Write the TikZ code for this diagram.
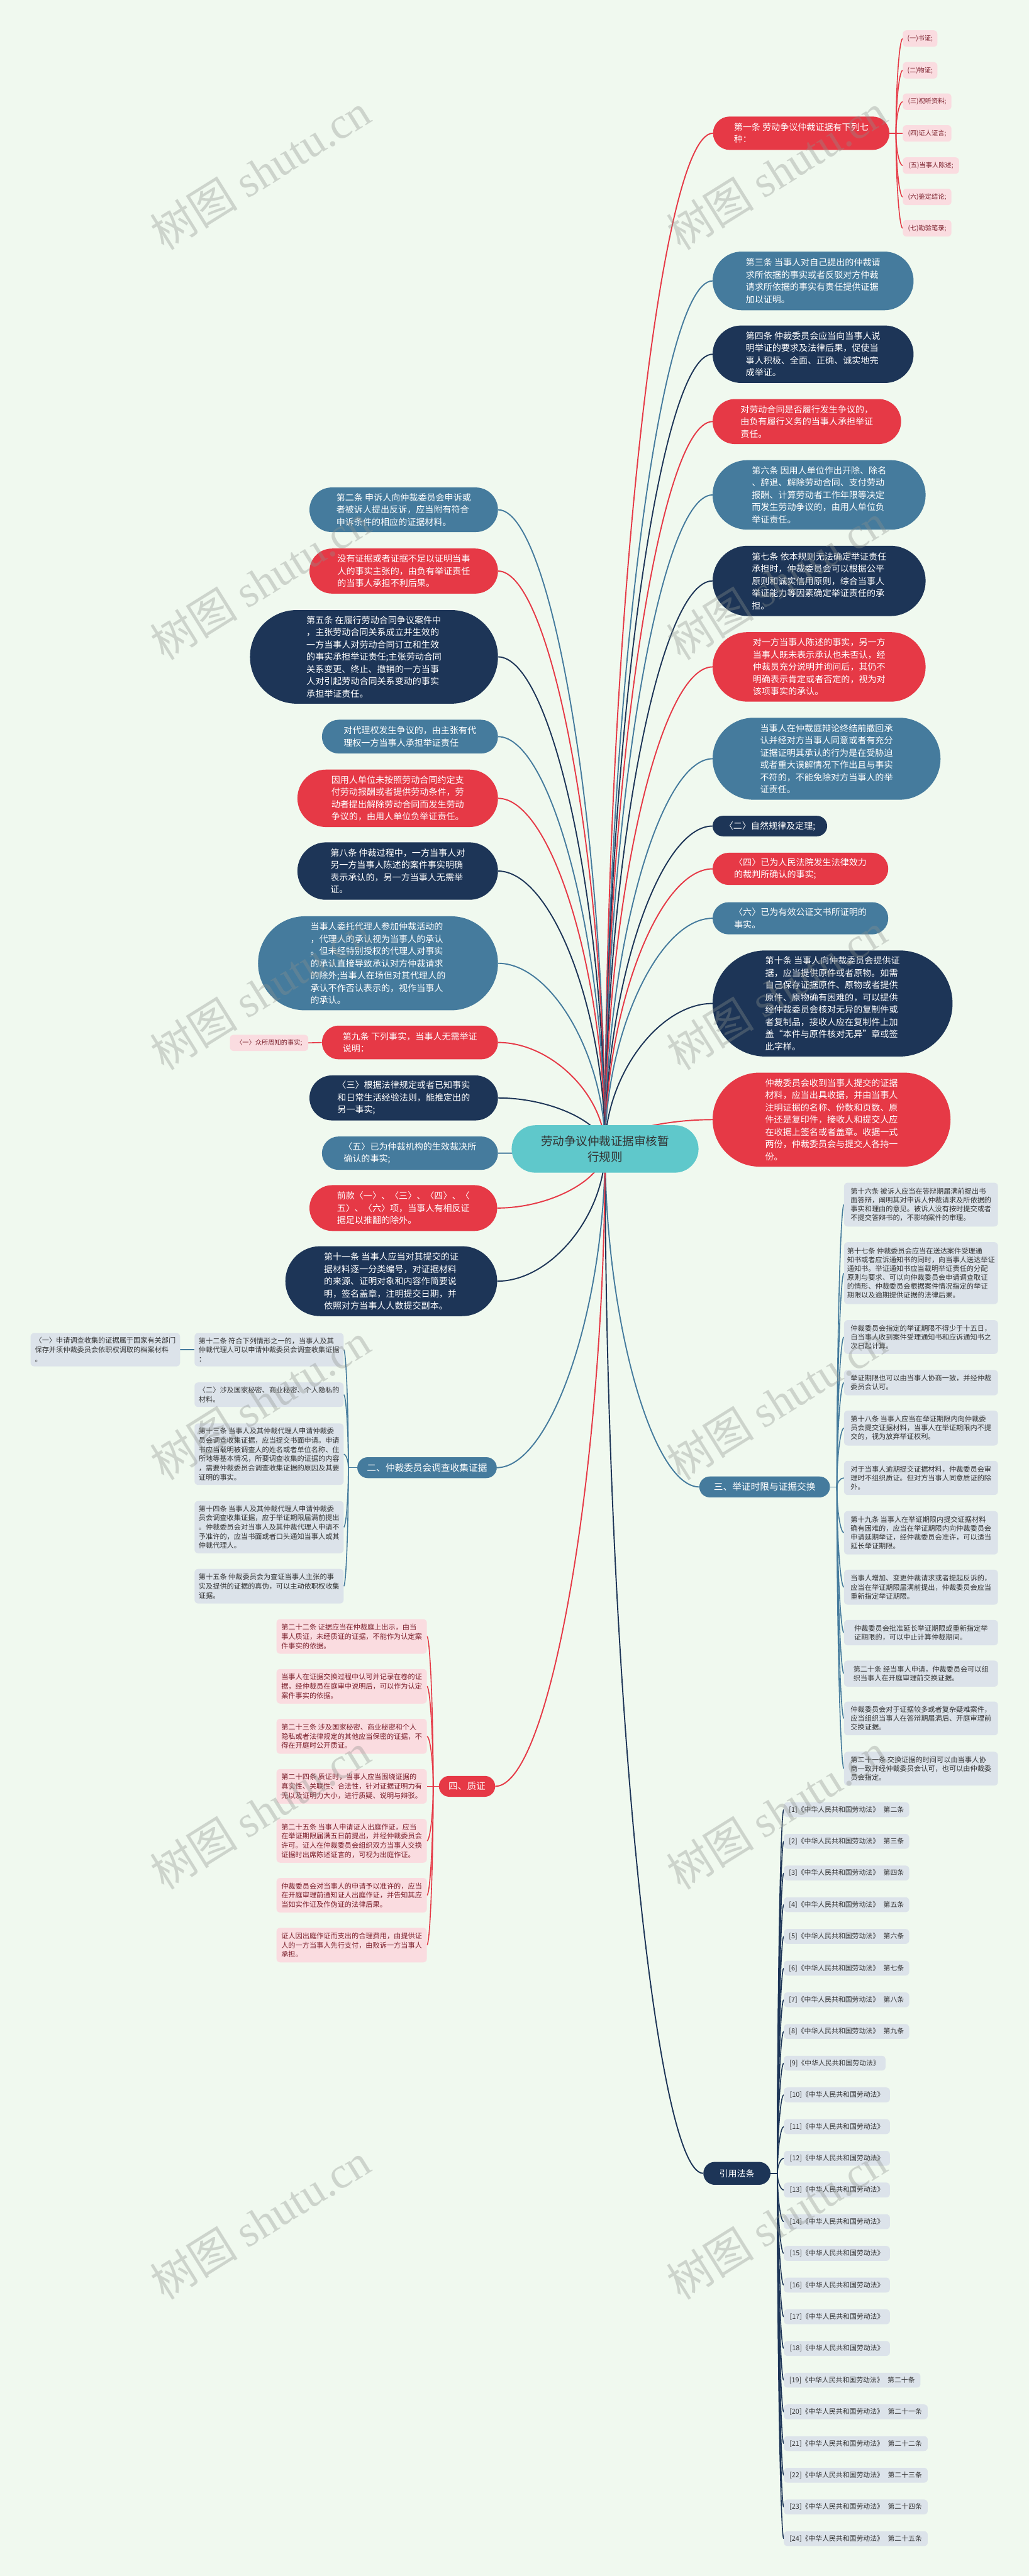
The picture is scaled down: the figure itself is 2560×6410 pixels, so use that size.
\documentclass[tikz,border=0pt]{standalone}
\usepackage{fontspec}
\setmainfont{Noto Sans CJK SC}
\newfontfamily\wmfont{Liberation Serif}
\usetikzlibrary{calc}
\definecolor{cbg}{HTML}{F0F9EF}
\definecolor{cred}{HTML}{E63946}
\definecolor{cnavy}{HTML}{1D3557}
\definecolor{csteel}{HTML}{457B9D}
\definecolor{cteal}{HTML}{5FC8CB}
\definecolor{cpink}{HTML}{FADCE0}
\definecolor{cgrey}{HTML}{DCE3EA}
\definecolor{cmaroon}{HTML}{7A1E2A}
\definecolor{cdark}{HTML}{333333}
\definecolor{cwm}{HTML}{8C918C}
\pgfdeclarelayer{bglayer}
\pgfdeclarelayer{edges}
\pgfdeclarelayer{wm}
\pgfsetlayers{bglayer,edges,main,wm}
\tikzset{
  mcurve/.style={to path={.. controls ($(\tikztostart)!0.5!(\tikztostart|-\tikztotarget)$) and ($(\tikztotarget)!0.5!(\tikztostart|-\tikztotarget)$) .. (\tikztotarget)}},
  mn/.style={inner sep=0pt, align=left, text=white, font=\fontsize{22pt}{30.5pt}\selectfont},
  rn/.style={mn, fill=cred},
  nn/.style={mn, fill=cnavy},
  sn/.style={mn, fill=csteel},
  pill/.style n args={3}{minimum width=#1pt, minimum height=#2pt, rounded corners=#3pt},
  sz/.style 2 args={minimum width=#1pt, minimum height=#2pt},
  leaf/.style={inner sep=0pt, align=left, rounded corners=9pt, font=\fontsize{17.5pt}{23pt}\selectfont},
  pk/.style={leaf, fill=cpink, text=cmaroon},
  gy/.style={leaf, fill=cgrey, text=cdark},
  gyt/.style={gy, font=\fontsize{17.5pt}{22pt}\selectfont},
  smallpk/.style={pk, font=\fontsize{16pt}{20pt}\selectfont},
  refn/.style={gy, anchor=west, minimum height=37pt, font=\fontsize{17pt}{20pt}\selectfont},
  brn/.style={inner sep=0pt, text=white, font=\fontsize{23pt}{28pt}\selectfont},
  cn/.style={line width=3pt},
  fn/.style={line width=2.5pt},
  wmk/.style={rotate=32, text=cwm, text opacity=0.35, font=\fontsize{110pt}{110pt}\selectfont, inner sep=0pt, anchor=base east}
}
\begin{document}
\begin{tikzpicture}[x=1pt,y=-1pt]
\begin{pgfonlayer}{bglayer}
\fill[cbg] (0,0) rectangle (2560,6410);
\end{pgfonlayer}
\useasboundingbox (0,0) rectangle (2560,6410);

% central
\node[inner sep=0pt, align=center, fill=cteal, text=cdark, font=\fontsize{29pt}{38pt}\selectfont, pill={465}{118}{59}] (cen) at (1505.5,2859) {劳动争议仲裁证据审核暂\\行规则};

% right column
\node[rn, pill={439}{83}{41.5}] (r1) at (1993.5,331.5) {第一条 劳动争议仲裁证据有下列七\\种：};
\node[smallpk, sz={86}{41}, anchor=west] (p1) at (2246,96) {(一)书证;};
\node[smallpk, sz={86}{41}, anchor=west] (p2) at (2246,175) {(二)物证;};
\node[smallpk, sz={121}{41}, anchor=west] (p3) at (2246,253) {(三)视听资料;};
\node[smallpk, sz={121}{41}, anchor=west] (p4) at (2246,332) {(四)证人证言;};
\node[smallpk, sz={140}{41}, anchor=west] (p5) at (2246,412) {(五)当事人陈述;};
\node[smallpk, sz={121}{41}, anchor=west] (p6) at (2246,490) {(六)鉴定结论;};
\node[smallpk, sz={121}{41}, anchor=west] (p7) at (2246,568) {(七)勘验笔录;};

\node[sn, pill={500}{146}{73}] (r3) at (2023,699) {第三条 当事人对自己提出的仲裁请\\求所依据的事实或者反驳对方仲裁\\请求所依据的事实有责任提供证据\\加以证明。};
\node[nn, pill={500}{143}{71.5}] (r4) at (2023,881.5) {第四条 仲裁委员会应当向当事人说\\明举证的要求及法律后果，促使当\\事人积极、全面、正确、诚实地完\\成举证。};
\node[rn, pill={469}{112}{56}] (r5) at (2007.5,1049) {对劳动合同是否履行发生争议的，\\由负有履行义务的当事人承担举证\\责任。};
\node[sn, pill={530}{173}{86.5}] (r6) at (2038,1231.5) {第六条 因用人单位作出开除、除名\\、辞退、解除劳动合同、支付劳动\\报酬、计算劳动者工作年限等决定\\而发生劳动争议的，由用人单位负\\举证责任。};
\node[nn, pill={530}{175}{87.5}] (r7) at (2038,1445.5) {第七条 依本规则无法确定举证责任\\承担时，仲裁委员会可以根据公平\\原则和诚实信用原则，综合当事人\\举证能力等因素确定举证责任的承\\担。};
\node[rn, pill={530}{173}{86.5}] (r8) at (2038,1659.5) {对一方当事人陈述的事实，另一方\\当事人既未表示承认也未否认，经\\仲裁员充分说明并询问后，其仍不\\明确表示肯定或者否定的，视为对\\该项事实的承认。};
\node[sn, pill={567}{204}{102}] (r9) at (2056.5,1888) {当事人在仲裁庭辩论终结前撤回承\\认并经对方当事人同意或者有充分\\证据证明其承认的行为是在受胁迫\\或者重大误解情况下作出且与事实\\不符的，不能免除对方当事人的举\\证责任。};
\node[nn, pill={285}{51}{25.5}] (r10) at (1915.5,2055.5) {〈二〉自然规律及定理;};
\node[rn, pill={437}{80}{40}] (r11) at (1991.5,2162) {〈四〉已为人民法院发生法律效力\\的裁判所确认的事实;};
\node[sn, pill={437}{80}{40}] (r12) at (1991.5,2285) {〈六〉已为有效公证文书所证明的\\事实。};
\node[nn, pill={597}{264}{132}] (r13) at (2071.5,2497) {第十条 当事人向仲裁委员会提供证\\据，应当提供原件或者原物。如需\\自己保存证据原件、原物或者提供\\原件、原物确有困难的，可以提供\\经仲裁委员会核对无异的复制件或\\者复制品，接收人应在复制件上加\\盖“本件与原件核对无异”章或签\\此字样。};
\node[rn, pill={592}{234}{117}] (r14) at (2069,2786) {仲裁委员会收到当事人提交的证据\\材料，应当出具收据，并由当事人\\注明证据的名称、份数和页数、原\\件还是复印件，接收人和提交人应\\在收据上签名或者盖章。收据一式\\两份，仲裁委员会与提交人各持一\\份。};

% left column
\node[sn, pill={469}{111}{55.5}] (l1) at (1004.5,1268.5) {第二条 申诉人向仲裁委员会申诉或\\者被诉人提出反诉，应当附有符合\\申诉条件的相应的证据材料。};
\node[rn, pill={469}{112}{56}] (l2) at (1004.5,1421) {没有证据或者证据不足以证明当事\\人的事实主张的，由负有举证责任\\的当事人承担不利后果。};
\node[nn, pill={617}{233}{116.5}] (l3) at (930.5,1634.5) {第五条 在履行劳动合同争议案件中\\，主张劳动合同关系成立并生效的\\一方当事人对劳动合同订立和生效\\的事实承担举证责任;主张劳动合同\\关系变更、终止、撤销的一方当事\\人对引起劳动合同关系变动的事实\\承担举证责任。};
\node[sn, pill={438}{84}{42}] (l4) at (1020,1833) {对代理权发生争议的，由主张有代\\理权一方当事人承担举证责任};
\node[rn, pill={499}{143}{71.5}] (l5) at (989.5,1986.5) {因用人单位未按照劳动合同约定支\\付劳动报酬或者提供劳动条件，劳\\动者提出解除劳动合同而发生劳动\\争议的，由用人单位负举证责任。};
\node[nn, pill={499}{143}{71.5}] (l6) at (989.5,2167.5) {第八条 仲裁过程中，一方当事人对\\另一方当事人陈述的案件事实明确\\表示承认的，另一方当事人无需举\\证。};
\node[sn, pill={597}{234}{117}] (l7) at (940.5,2397) {当事人委托代理人参加仲裁活动的\\，代理人的承认视为当事人的承认\\。但未经特别授权的代理人对事实\\的承认直接导致承认对方仲裁请求\\的除外;当事人在场但对其代理人的\\承认不作否认表示的，视作当事人\\的承认。};
\node[rn, pill={438}{84}{42}] (l8) at (1020,2594) {第九条 下列事实，当事人无需举证\\说明：};
\node[smallpk, sz={195}{40}] (p8) at (669.5,2595) {〈一〉众所周知的事实;};
\node[nn, pill={469}{112}{56}] (l9) at (1004.5,2732) {〈三〉根据法律规定或者已知事实\\和日常生活经验法则，能推定出的\\另一事实;};
\node[sn, pill={438}{83}{41.5}] (l10) at (1020,2869.5) {〈五〉已为仲裁机构的生效裁决所\\确认的事实;};
\node[rn, pill={467}{114}{57}] (l11) at (1003.5,3006) {前款〈一〉、〈三〉、〈四〉、〈\\五〉、〈六〉项，当事人有相反证\\据足以推翻的除外。};
\node[nn, pill={527}{174}{87}] (l12) at (973.5,3188) {第十一条 当事人应当对其提交的证\\据材料逐一分类编号，对证据材料\\的来源、证明对象和内容作简要说\\明，签名盖章，注明提交日期，并\\依照对方当事人人数提交副本。};

% branch 二
\node[brn, fill=csteel, pill={347}{52}{26}] (b2) at (1062.5,3652) {二、仲裁委员会调查收集证据};
\node[gy, sz={371}{83}] (c1) at (669.5,3358.5) {第十二条 符合下列情形之一的，当事人及其\\仲裁代理人可以申请仲裁委员会调查收集证据\\：};
\node[gy, sz={372}{83}] (c1a) at (262,3358.5) {〈一〉申请调查收集的证据属于国家有关部门\\保存并须仲裁委员会依职权调取的档案材料\\。};
\node[gy, sz={371}{61}] (c2) at (669.5,3470.5) {〈二〉涉及国家秘密、商业秘密、个人隐私的\\材料。};
\node[gy, sz={371}{153}] (c3) at (669.5,3618.5) {第十三条 当事人及其仲裁代理人申请仲裁委\\员会调查收集证据，应当提交书面申请。申请\\书应当载明被调查人的姓名或者单位名称、住\\所地等基本情况，所要调查收集的证据的内容\\，需要仲裁委员会调查收集证据的原因及其要\\证明的事实。};
\node[gy, sz={371}{130}] (c4) at (669.5,3800) {第十四条 当事人及其仲裁代理人申请仲裁委\\员会调查收集证据，应于举证期限届满前提出\\。仲裁委员会对当事人及其仲裁代理人申请不\\予准许的，应当书面或者口头通知当事人或其\\仲裁代理人。};
\node[gy, sz={371}{86}] (c5) at (669.5,3947) {第十五条 仲裁委员会为查证当事人主张的事\\实及提供的证据的真伪，可以主动依职权收集\\证据。};

% branch 四
\node[brn, fill=cred, pill={140}{52}{26}] (b4) at (1162,4445) {四、质证};
\node[pk, sz={374}{86}] (d1) at (875,4072) {第二十二条 证据应当在仲裁庭上出示，由当\\事人质证，未经质证的证据，不能作为认定案\\件事实的依据。};
\node[pk, sz={374}{86}] (d2) at (875,4196) {当事人在证据交换过程中认可并记录在卷的证\\据，经仲裁员在庭审中说明后，可以作为认定\\案件事实的依据。};
\node[pk, sz={374}{87}] (d3) at (875,4320.5) {第二十三条 涉及国家秘密、商业秘密和个人\\隐私或者法律规定的其他应当保密的证据，不\\得在开庭时公开质证。};
\node[pk, sz={374}{86}] (d4) at (875,4445) {第二十四条 质证时，当事人应当围绕证据的\\真实性、关联性、合法性，针对证据证明力有\\无以及证明力大小，进行质疑、说明与辩驳。};
\node[pk, sz={374}{109}] (d5) at (875,4580.5) {第二十五条 当事人申请证人出庭作证，应当\\在举证期限届满五日前提出，并经仲裁委员会\\许可。证人在仲裁委员会组织双方当事人交换\\证据时出席陈述证言的，可视为出庭作证。};
\node[pk, sz={374}{86}] (d6) at (875,4716) {仲裁委员会对当事人的申请予以准许的，应当\\在开庭审理前通知证人出庭作证，并告知其应\\当如实作证及作伪证的法律后果。};
\node[pk, sz={374}{86}] (d7) at (875,4840) {证人因出庭作证而支出的合理费用，由提供证\\人的一方当事人先行支付，由败诉一方当事人\\承担。};

% branch 三
\node[brn, fill=csteel, pill={325}{52}{26}] (b3) at (1902.5,3700) {三、举证时限与证据交换};
\node[gyt, sz={383}{109}] (t1) at (2291.5,2997.5) {第十六条 被诉人应当在答辩期届满前提出书\\面答辩，阐明其对申诉人仲裁请求及所依据的\\事实和理由的意见。被诉人没有按时提交或者\\不提交答辩书的，不影响案件的审理。};
\node[gyt, sz={383}{154}] (t2) at (2291.5,3168) {第十七条 仲裁委员会应当在送达案件受理通\\知书或者应诉通知书的同时，向当事人送达举证\\通知书。举证通知书应当载明举证责任的分配\\原则与要求、可以向仲裁委员会申请调查取证\\的情形、仲裁委员会根据案件情况指定的举证\\期限以及逾期提供证据的法律后果。};
\node[gyt, sz={383}{84}] (t3) at (2291.5,3327) {仲裁委员会指定的举证期限不得少于十五日，\\自当事人收到案件受理通知书和应诉通知书之\\次日起计算。};
\node[gyt, sz={383}{63}] (t4) at (2291.5,3440.5) {举证期限也可以由当事人协商一致，并经仲裁\\委员会认可。};
\node[gyt, sz={383}{87}] (t5) at (2291.5,3553.5) {第十八条 当事人应当在举证期限内向仲裁委\\员会提交证据材料，当事人在举证期限内不提\\交的，视为放弃举证权利。};
\node[gyt, sz={383}{85}] (t6) at (2291.5,3677.5) {对于当事人逾期提交证据材料，仲裁委员会审\\理时不组织质证。但对方当事人同意质证的除\\外。};
\node[gyt, sz={383}{108}] (t7) at (2291.5,3814) {第十九条 当事人在举证期限内提交证据材料\\确有困难的，应当在举证期限内向仲裁委员会\\申请延期举证，经仲裁委员会准许，可以适当\\延长举证期限。};
\node[gyt, sz={383}{87}] (t8) at (2291.5,3949.5) {当事人增加、变更仲裁请求或者提起反诉的，\\应当在举证期限届满前提出，仲裁委员会应当\\重新指定举证期限。};
\node[gyt, sz={383}{63}] (t9) at (2291.5,4062.5) {仲裁委员会批准延长举证期限或重新指定举\\证期限的，可以中止计算仲裁期间。};
\node[gyt, sz={383}{65}] (t10) at (2291.5,4164.5) {第二十条 经当事人申请，仲裁委员会可以组\\织当事人在开庭审理前交换证据。};
\node[gyt, sz={383}{84}] (t11) at (2291.5,4276) {仲裁委员会对于证据较多或者复杂疑难案件，\\应当组织当事人在答辩期届满后、开庭审理前\\交换证据。};
\node[gyt, sz={383}{84}] (t12) at (2291.5,4401) {第二十一条 交换证据的时间可以由当事人协\\商一致并经仲裁委员会认可，也可以由仲裁委\\员会指定。};

% references
\node[brn, fill=cnavy, font=\fontsize{22pt}{28pt}\selectfont, pill={167}{57}{28.5}] (bref) at (1833.5,5408) {引用法条};
\foreach \k/\w/\t in {1/312/{\hspace{.6em}第二条},2/312/{\hspace{.6em}第三条},3/312/{\hspace{.6em}第四条},4/312/{\hspace{.6em}第五条},5/312/{\hspace{.6em}第六条},6/312/{\hspace{.6em}第七条},7/312/{\hspace{.6em}第八条},8/312/{\hspace{.6em}第九条},9/253/{},10/264/{},11/264/{},12/264/{},13/264/{},14/264/{},15/264/{},16/264/{},17/264/{},18/264/{},19/340/{\hspace{.6em}第二十条},20/358/{\hspace{.6em}第二十一条},21/358/{\hspace{.6em}第二十二条},22/358/{\hspace{.6em}第二十三条},23/358/{\hspace{.6em}第二十四条},24/358/{\hspace{.6em}第二十五条}}{
  \node[refn, minimum width=\w pt] (f\k) at (1950,{4503+(\k-1)*78.87}) {[\k]《中华人民共和国劳动法》\t};
}

% trunk points
\coordinate (tp1) at ($(r1.east)+(16,0)$);
\coordinate (tp2) at ($(b2.west)+(-22,0)$);
\coordinate (tp4) at ($(b4.west)+(-14,0)$);
\coordinate (tp3) at ($(b3.east)+(17,0)$);
\coordinate (tpr) at ($(bref.east)+(17,0)$);

\begin{pgfonlayer}{edges}
% central to right
\foreach \n/\c in {r1/cred,r3/csteel,r4/cnavy,r5/cred,r6/csteel,r7/cnavy,r8/cred,r9/csteel,r10/cnavy,r11/cred,r12/csteel,r13/cnavy,r14/cred,b3/csteel,bref/cnavy}{
  \draw[cn, draw=\c] (cen.center) to[mcurve] (\n.west);
}
% central to left
\foreach \n/\c in {l1/csteel,l2/cred,l3/cnavy,l4/csteel,l5/cred,l6/cnavy,l7/csteel,l8/cred,l9/cnavy,l10/csteel,l11/cred,l12/cnavy,b2/csteel,b4/cred}{
  \draw[cn, draw=\c] (cen.center) to[mcurve] (\n.east);
}
% fans
\draw[fn, cred] (r1.east) -- (tp1);
\foreach \n in {p1,p2,p3,p4,p5,p6,p7}{\draw[fn, cred] (tp1) to[mcurve] (\n.west);}
\draw[fn, cred] (l8.west) -- (p8.east);
\draw[fn, csteel] (b2.west) -- (tp2);
\foreach \n in {c1,c2,c3,c4,c5}{\draw[fn, csteel] (tp2) to[mcurve] (\n.east);}
\draw[fn, csteel] (c1.west) -- (c1a.east);
\draw[fn, cred] (b4.west) -- (tp4);
\foreach \n in {d1,d2,d3,d4,d5,d6,d7}{\draw[fn, cred] (tp4) to[mcurve] (\n.east);}
\draw[fn, csteel] (b3.east) -- (tp3);
\foreach \n in {t1,t2,t3,t4,t5,t6,t7,t8,t9,t10,t11,t12}{\draw[fn, csteel] (tp3) to[mcurve] (\n.west);}
\draw[fn, cnavy] (bref.east) -- (tpr);
\foreach \k in {1,...,24}{\draw[fn, cnavy] (tpr) to[mcurve] (f\k.west);}
\end{pgfonlayer}

\begin{pgfonlayer}{wm}
\foreach \y [count=\i] in {300,1320,2340,3360,4380,5400}{
  \node[wmk] (wl\i) at (930,\y) {树图 {\wmfont shutu.cn}};
  \node[wmk] (wr\i) at (2215,\y) {树图 {\wmfont shutu.cn}};
}
\end{pgfonlayer}
\end{tikzpicture}
\end{document}
